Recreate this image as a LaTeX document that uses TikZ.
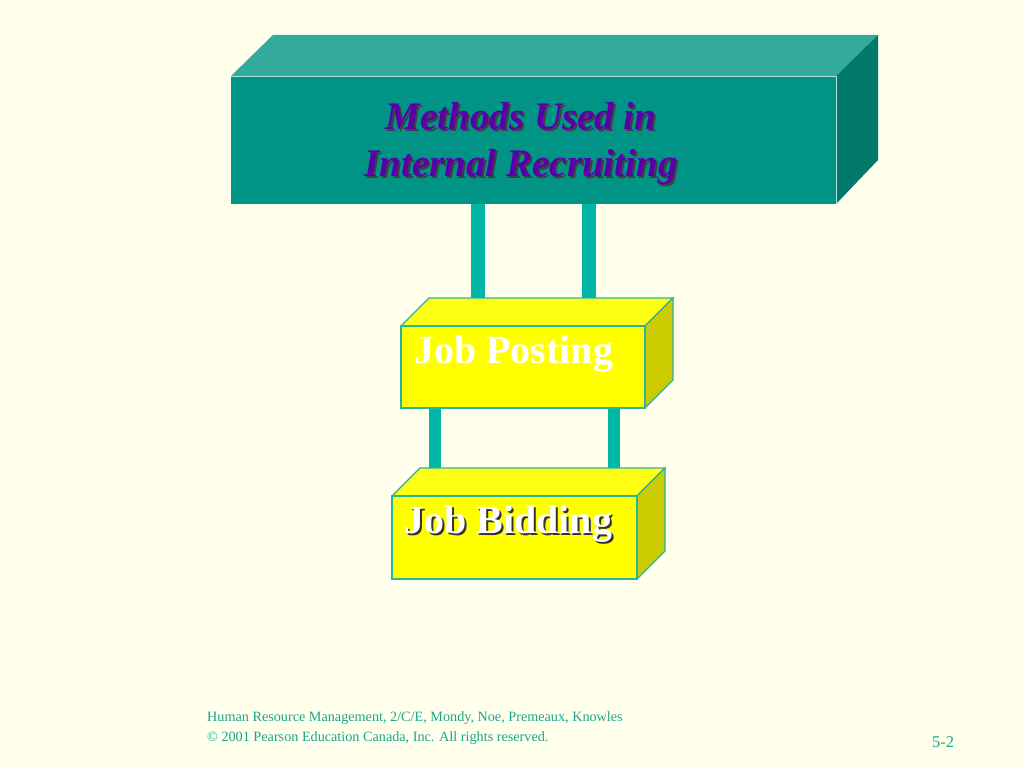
\documentclass[tikz,border=0pt]{standalone}
\usepackage{fontspec}
\setmainfont{Liberation Serif}
\usetikzlibrary{calc}
\definecolor{bg}{RGB}{255,255,236}
\definecolor{tealfront}{RGB}{0,148,134}
\definecolor{tealtop}{RGB}{50,170,158}
\definecolor{tealside}{RGB}{0,120,108}
\definecolor{bar}{RGB}{0,182,164}
\definecolor{yfront}{RGB}{255,255,0}
\definecolor{ytop}{RGB}{255,255,20}
\definecolor{yside}{RGB}{204,204,0}
\definecolor{yedge}{RGB}{40,180,160}
\definecolor{titlec}{RGB}{90,0,170}
\definecolor{footc}{RGB}{26,165,143}
\tikzset{
  front/.style={rectangle, inner sep=0pt, outer sep=0pt},
  ybox/.style={front, fill=yfront, draw=yedge, line width=1.2pt},
  barline/.style={bar, line width=14pt},
  foot/.style={text=footc, font=\fontsize{14.2}{16}\selectfont, anchor=base west, inner sep=0pt},
  lbl/.style={font=\fontsize{40}{44}\selectfont\bfseries, anchor=base west, inner sep=0pt}
}
\begin{document}
\begin{tikzpicture}[x=1pt,y=-1pt]
\fill[bg] (0,0) rectangle (1024,768);
\useasboundingbox (0,0) rectangle (1024,768);
\node[front, minimum width=605pt, minimum height=128pt, anchor=north west] (title) at (231,76) {};
\node[front, minimum width=244pt, minimum height=82pt, anchor=north west] (post) at (401,326) {};
\node[front, minimum width=245pt, minimum height=83pt, anchor=north west] (bid) at (392,496) {};
% connectors (behind boxes)
\draw[barline] (title.south west -| 478,0) -- ($(post.north west -| 478,0)+(0,-28)$);
\draw[barline] (title.south west -| 589,0) -- ($(post.north west -| 589,0)+(0,-28)$);
\draw[barline, line width=12pt] (post.south west -| 435,0) -- ($(bid.north west -| 435,0)+(0,-28)$);
\draw[barline, line width=12pt] (post.south west -| 614,0) -- ($(bid.north west -| 614,0)+(0,-28)$);
% title box
\fill[tealfront] (title.north west) rectangle (title.south east);
\fill[tealtop] (title.north west) -- ++(42,-41) -- ($(title.north east)+(42,-41)$) -- (title.north east) -- cycle;
\fill[tealside] (title.north east) -- ++(42,-41) -- ($(title.south east)+(42,-44)$) -- (title.south east) -- cycle;
\draw[white!70!tealfront, line width=0.6pt] (title.north west) -- (title.north east) -- (title.south east);
% job posting box
\filldraw[ybox, fill=ytop] (post.north west) -- ++(28,-28) -- ($(post.north east)+(28,-28)$) -- (post.north east) -- cycle;
\filldraw[ybox, fill=yside] (post.north east) -- ++(28,-28) -- ($(post.south east)+(28,-28)$) -- (post.south east) -- cycle;
\draw[ybox] (post.north west) rectangle (post.south east);
% job bidding box
\filldraw[ybox, fill=ytop] (bid.north west) -- ++(28,-28) -- ($(bid.north east)+(28,-28)$) -- (bid.north east) -- cycle;
\filldraw[ybox, fill=yside] (bid.north east) -- ++(28,-28) -- ($(bid.south east)+(28,-28)$) -- (bid.south east) -- cycle;
\draw[ybox] (bid.north west) rectangle (bid.south east);
% title text
\foreach \dx/\c in {2/black!75, 0/titlec}{
  \node[text=\c, font=\fontsize{39}{47}\selectfont\bfseries\itshape, align=center, inner sep=0pt, anchor=base]
    (t\dx) at (521+\dx,176+\dx) {Methods Used in\\Internal Recruiting};
}
% labels
\node[lbl, text=white] (lp) at (414,363) {Job Posting};
\node[lbl, text=black!80] (lbs) at (406,535) {Job Bidding};
\node[lbl, text=white] (lb) at (404,533) {Job Bidding};
% footer
\node[foot] (f1) at (207,721) {Human Resource Management, 2/C/E, Mondy, Noe, Premeaux, Knowles};
\node[foot] (f2) at (207,741) {© 2001 Pearson Education Canada, Inc. All rights reserved.};
\node[foot, font=\fontsize{16.5}{18}\selectfont] (pg) at (932,747) {5-2};
\end{tikzpicture}
\end{document}
